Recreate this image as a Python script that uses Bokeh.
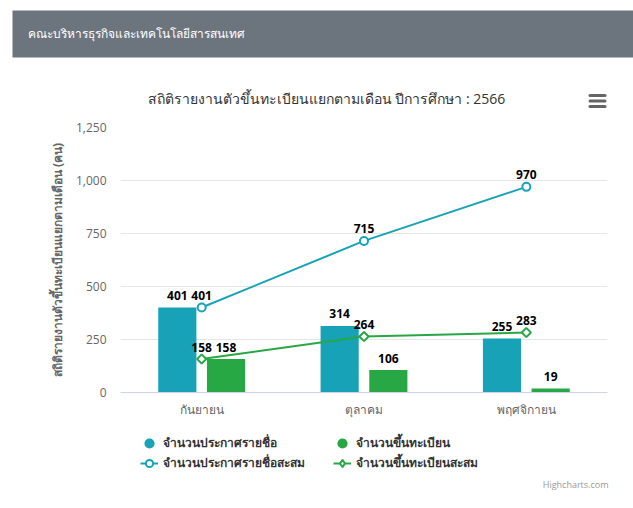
import math
from bokeh.plotting import figure
from bokeh.models import (ColumnDataSource, FactorRange, Range1d, FixedTicker,
                          NumeralTickFormatter, LabelSet, Legend, LegendItem, Label)
from bokeh.transform import dodge
from bokeh.layouts import column
from bokeh.embed import file_html
from bokeh.resources import INLINE
from bokeh.core.properties import value

# ---------------- data ----------------
months = ["กันยายน", "ตุลาคม", "พฤศจิกายน"]
announced = [401, 314, 255]
registered = [158, 106, 19]
announced_cum = [401, 715, 970]
registered_cum = [158, 264, 283]
y_ticks = [0, 250, 500, 750, 1000, 1250]
series_names = ["จำนวนประกาศรายชื่อ", "จำนวนขึ้นทะเบียน",
                "จำนวนประกาศรายชื่อสะสม", "จำนวนขึ้นทะเบียนสะสม"]
header_text = "คณะบริหารธุรกิจและเทคโนโลยีสารสนเทศ"
chart_title = "สถิติรายงานตัวขึ้นทะเบียนแยกตามเดือน ปีการศึกษา : 2566"
y_title = "สถิติรายงานตัวขึ้นทะเบียนแยกตามเดือน (คน)"
credit_text = "Highcharts.com"

BLUE = "#17a2b8"
GREEN = "#28a745"
FONT = "Open Sans"
W = 633
HDR_H = 118
MAIN_H = 302
LEG_H = 88


def plain_fig(h):
    return figure(width=W, height=h, x_range=Range1d(0, W), y_range=Range1d(0, h),
                  x_axis_type=None, y_axis_type=None, toolbar_location=None,
                  output_backend="svg", min_border=0, min_border_left=0, min_border_right=0,
                  min_border_top=0, min_border_bottom=0, outline_line_color=None,
                  frame_align=False)


# ---------------- header / title strip ----------------
hdr = plain_fig(HDR_H)
hdr.quad(left=[12], right=[W], bottom=[61], top=[108], fill_color="#6c757d", line_color=None)
hdr.add_layout(Label(x=27, y=85, text=header_text, text_color="white", text_font=FONT,
                     text_font_size="12px", text_baseline="middle"))
hdr.add_layout(Label(x=326, y=20, text=chart_title, text_color="#333333", text_font=FONT,
                     text_font_size="14px", text_align="center", text_baseline="middle"))
hdr.segment(x0=[589.5] * 3, x1=[604.5] * 3, y0=[23, 17.5, 12], y1=[23, 17.5, 12],
            line_color="#666666", line_width=3, line_cap="round")

# ---------------- main chart ----------------
src = ColumnDataSource(dict(
    month=months,
    announced=announced, registered=registered,
    announced_cum=announced_cum, registered_cum=registered_cum,
    a_lbl=[str(v) for v in announced], r_lbl=[str(v) for v in registered],
    ac_lbl=[str(v) for v in announced_cum], rc_lbl=[str(v) for v in registered_cum],
))

p = figure(width=W, height=MAIN_H, x_range=FactorRange(*months), y_range=Range1d(0, 1250),
           toolbar_location=None, output_backend="svg", frame_align=False,
           min_border_left=120, min_border_right=26, min_border_top=9, min_border_bottom=27)
p.outline_line_color = None
p.xgrid.grid_line_color = None
p.ygrid.grid_line_color = "#e6e6e6"

off = 0.15
bw = 0.235
p.vbar(x=dodge("month", -off, range=p.x_range), top="announced", width=bw, source=src,
       fill_color=BLUE, line_color=None)
p.vbar(x=dodge("month", off, range=p.x_range), top="registered", width=bw, source=src,
       fill_color=GREEN, line_color=None)

p.line("month", "announced_cum", source=src, line_color=BLUE, line_width=2)
p.scatter("month", "announced_cum", source=src, marker="circle", size=8,
          fill_color="white", line_color=BLUE, line_width=2)
p.line("month", "registered_cum", source=src, line_color=GREEN, line_width=2)
p.scatter("month", "registered_cum", source=src, marker="square", angle=math.pi / 4,
          size=6.5, fill_color="white", line_color=GREEN, line_width=2)

lbl_kw = dict(source=src, text_font=value(FONT), text_font_size="12px",
              text_font_style="bold", text_color="#000000", text_align="center",
              text_baseline="middle", y_offset=12)
p.add_layout(LabelSet(x=dodge("month", -off, range=p.x_range), y="announced", text="a_lbl", **lbl_kw))
p.add_layout(LabelSet(x=dodge("month", off, range=p.x_range), y="registered", text="r_lbl", **lbl_kw))
p.add_layout(LabelSet(x="month", y="announced_cum", text="ac_lbl", **lbl_kw))
p.add_layout(LabelSet(x="month", y="registered_cum", text="rc_lbl", **lbl_kw))

# axes
p.yaxis.ticker = FixedTicker(ticks=y_ticks)
p.yaxis.formatter = NumeralTickFormatter(format="0,0")
p.yaxis.axis_line_color = None
p.yaxis.major_tick_line_color = None
p.yaxis.minor_tick_line_color = None
p.yaxis.major_tick_out = 0
p.yaxis.major_tick_in = 0
p.yaxis.major_label_standoff = 14
p.yaxis.major_label_text_font = FONT
p.yaxis.major_label_text_font_size = "12px"
p.yaxis.major_label_text_color = "#666666"
p.yaxis.axis_label = y_title
p.yaxis.axis_label_text_font = FONT
p.yaxis.axis_label_text_font_size = "12px"
p.yaxis.axis_label_text_font_style = "bold"
p.yaxis.axis_label_text_color = "#666666"
p.yaxis.axis_label_standoff = 7

p.xaxis.axis_line_color = "#ccd6eb"
p.xaxis.major_tick_line_color = None
p.xaxis.minor_tick_line_color = None
p.xaxis.major_tick_out = 0
p.xaxis.major_tick_in = 0
p.xaxis.major_label_standoff = 8
p.xaxis.major_label_text_font = FONT
p.xaxis.major_label_text_font_size = "12px"
p.xaxis.major_label_text_color = "#666666"

# ---------------- legend strip (legend proxies are hidden) ----------------
leg = plain_fig(LEG_H)
c1 = leg.scatter("announced", "announced", source=src, marker="circle", size=8,
                 fill_color=BLUE, line_color=BLUE, line_width=3, visible=False)
c2 = leg.scatter("registered", "registered", source=src, marker="circle", size=8,
                 fill_color=GREEN, line_color=GREEN, line_width=3, visible=False)
l1 = leg.line("announced_cum", "announced_cum", source=src, line_color=BLUE, line_width=2,
              visible=False)
m1 = leg.scatter("announced_cum", "announced_cum", source=src, marker="circle", size=8,
                 fill_color="white", line_color=BLUE, line_width=2, visible=False)
l2 = leg.line("registered_cum", "registered_cum", source=src, line_color=GREEN, line_width=2,
              visible=False)
m2 = leg.scatter("registered_cum", "registered_cum", source=src, marker="diamond",
                 size=8, fill_color="white", line_color=GREEN,
                 line_width=2, visible=False)

legend = Legend(items=[
    LegendItem(label=series_names[0], renderers=[c1]),
    LegendItem(label=series_names[1], renderers=[c2]),
    LegendItem(label=series_names[2], renderers=[l1, m1]),
    LegendItem(label=series_names[3], renderers=[l2, m2]),
], ncols=2, orientation="horizontal", location=(140, 36), margin=0, padding=0,
    border_line_color=None, background_fill_alpha=0,
    label_text_font=FONT, label_text_font_size="12px", label_text_font_style="bold",
    label_text_color="#333333", glyph_width=18, glyph_height=18, label_height=18,
    label_width=169, spacing=1, label_standoff=5)
leg.add_layout(legend, "center")
leg.add_layout(Label(x=608, y=24, text=credit_text, text_align="right", text_baseline="middle",
                     text_font=FONT, text_font_size="9px", text_color="#999999"))

layout = column(hdr, p, leg, spacing=0)
open("out.html", "w").write(file_html(layout, INLINE))
